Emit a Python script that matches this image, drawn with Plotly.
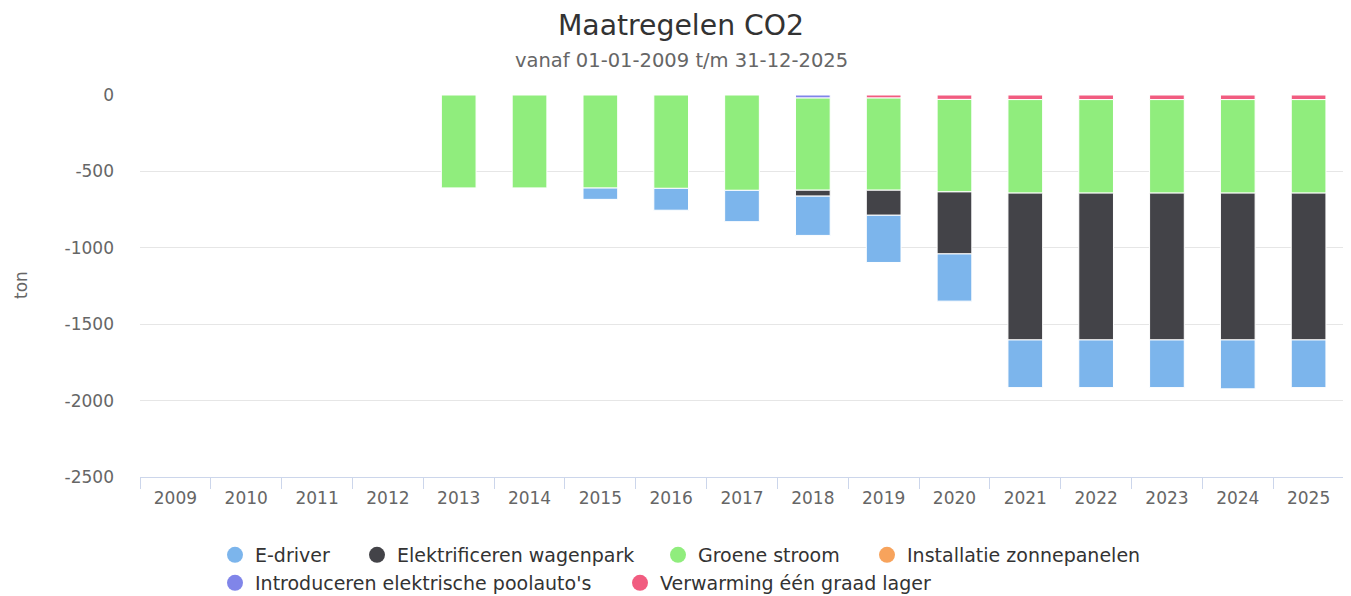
import plotly.graph_objects as go

# The page body adds an 8px margin, so the figure is 8px smaller and all
# pixel positions below are expressed in figure coordinates (reference - 8).
W, H = 1343, 588

years = [str(y) for y in range(2009, 2026)]

e_driver = [None, None, None, None, None, None, -74, -143, -205, -257, -309, -309, -312, -312, -312, -320, -312]
elektrificeren = [None, None, None, None, None, None, None, None, None, -39, -164, -406, -961, -961, -961, -961, -961]
groene_stroom = [None, None, None, None, -608, -608, -609, -611, -624, -603, -603, -605, -612, -612, -612, -612, -612]
installatie_zon = [None] * 17
introduceren = [None, None, None, None, None, None, None, None, None, -20, None, None, None, None, None, None, None]
verwarming = [None, None, None, None, None, None, None, None, None, None, -20, -29, -30, -30, -30, -30, -30]

y_tickvals = [0, -500, -1000, -1500, -2000, -2500]
y_ticktext = ["0", "-500", "-1000", "-1500", "-2000", "-2500"]

series_names = ["E-driver", "Elektrificeren wagenpark", "Groene stroom",
                "Installatie zonnepanelen", "Introduceren elektrische poolauto's",
                "Verwarming één graad lager"]
series_values = [e_driver, elektrificeren, groene_stroom, installatie_zon, introduceren, verwarming]
colors = ["#7cb5ec", "#434348", "#90ed7d", "#f7a35c", "#8085e9", "#f15c80"]

# legend circle centres (px, reference coordinates)
legend_pos = [(235, 555), (377, 555), (678, 555), (887, 555), (235, 583), (640, 583)]

FONT = "DejaVu Sans, Verdana, sans-serif"
OFF = 8
L, R, T, B = 140 - OFF, 7, 95 - OFF, 119
PW = W - L - R
PH = H - T - B

fig = go.Figure()

# stacking: last series sits closest to zero (Highcharts order)
for i in reversed(range(6)):
    fig.add_trace(go.Bar(
        x=years, y=series_values[i], name=series_names[i],
        marker=dict(color=colors[i], line=dict(color="white", width=1)),
        legendgroup=series_names[i], showlegend=False,
    ))

for i in range(6):
    fig.add_trace(go.Scatter(
        x=[None], y=[None], mode="markers", name=series_names[i],
        marker=dict(color=colors[i], size=16, symbol="circle"),
        legendgroup=series_names[i], showlegend=True,
        legend="legend" if i == 0 else f"legend{i+1}",
    ))

layout_legends = {}
for i, (cx, cy) in enumerate(legend_pos):
    key = "legend" if i == 0 else f"legend{i+1}"
    layout_legends[key] = dict(
        xref="container", yref="container",
        x=(cx - OFF - 20) / W, y=1 - (cy - OFF) / H, xanchor="left", yanchor="middle",
        orientation="h", bgcolor="rgba(0,0,0,0)",
        font=dict(family=FONT, size=19, color="#333333"),
    )

fig.update_layout(
    width=W, height=H,
    barmode="relative", bargap=0.51,
    plot_bgcolor="white", paper_bgcolor="white",
    margin=dict(l=L, r=R, t=T, b=B, autoexpand=False),
    font=dict(family=FONT, color="#666666"),
    title=dict(text="Maatregelen CO2", x=(681 - OFF) / W, xanchor="center", xref="container",
               y=1 - (25 - OFF) / H, yanchor="middle", yref="container",
               font=dict(family=FONT, size=28.3, color="#333333")),
    annotations=[
        dict(text="vanaf 01-01-2009 t/m 31-12-2025", xref="paper", yref="paper",
             x=(681 - OFF - L) / PW, y=1 + (T - (61 - OFF)) / PH,
             xanchor="center", yanchor="middle", showarrow=False,
             font=dict(family=FONT, size=19.5, color="#666666")),
        dict(text="ton", xref="paper", yref="paper", textangle=-90,
             x=(21 - OFF - L) / PW, y=1 - (285 - 95) / PH,
             xanchor="center", yanchor="middle", showarrow=False,
             font=dict(family=FONT, size=17, color="#666666")),
    ],
    xaxis=dict(type="category", showgrid=False, showline=True, linecolor="#ccd6eb", linewidth=1,
               ticks="outside", tickson="boundaries", ticklen=11, tickcolor="#ccd6eb",
               ticklabelstandoff=6,
               tickfont=dict(family=FONT, size=17, color="#666666")),
    yaxis=dict(range=[-2500, 0], tickvals=y_tickvals, ticktext=y_ticktext,
               showgrid=True, gridcolor="#e6e6e6", gridwidth=1,
               zeroline=False, showline=False, ticklabelstandoff=25,
               tickfont=dict(family=FONT, size=17, color="#666666")),
    showlegend=True,
    **layout_legends,
)

fig.write_html("out.html")
